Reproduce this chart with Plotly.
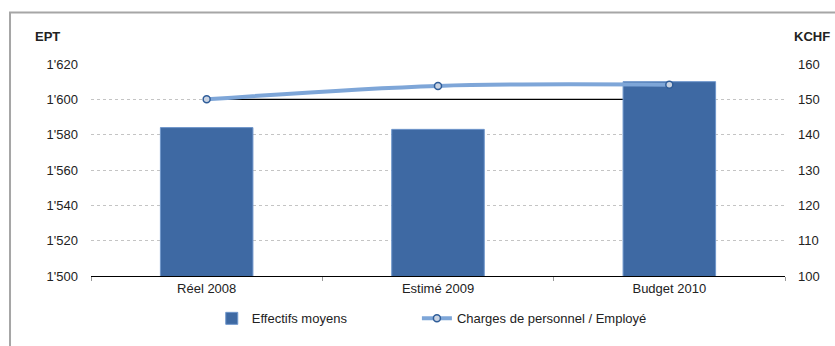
import plotly.graph_objects as go

categories = ["Réel 2008", "Estimé 2009", "Budget 2010"]
effectifs = [1584, 1583, 1610]
charges = [150.0, 153.8, 154.1]
reference_line = [1600, 1600, 1600]
series_names = ["Effectifs moyens", "Charges de personnel / Employé"]

FONT = "Liberation Sans, Arial, sans-serif"
PAD = "\u00a0" * 18  # spacing between legend entries

fig = go.Figure()

# black reference line on main axis (drawn first, below the bars)
fig.add_trace(go.Scatter(
    x=categories, y=reference_line, mode="lines",
    line=dict(color="black", width=1.2), showlegend=False, hoverinfo="skip",
    yaxis="y"))

# bars on a hidden overlay axis with the same range as the EPT axis
fig.add_trace(go.Bar(
    x=categories, y=effectifs, name=series_names[0] + PAD,
    marker=dict(color="#3E69A3", line=dict(color="#6F96CB", width=1)),
    yaxis="y2"))

fig.add_trace(go.Scatter(
    x=categories, y=charges, name=series_names[1],
    mode="lines+markers",
    line=dict(color="#7EA6D8", width=4, shape="spline"),
    marker=dict(symbol="circle", size=7, color="#C9D3E2",
                line=dict(color="#2F5D99", width=1.5)),
    yaxis="y3"))

fig.update_layout(
    width=835, height=346,
    margin=dict(l=91, r=50, t=64, b=60),
    paper_bgcolor="white", plot_bgcolor="white",
    separators=".'",
    font=dict(family=FONT, size=13, color="#222222"),
    bargap=0.6,
    showlegend=True,
    legend=dict(orientation="h", x=0.174, xanchor="left", y=-0.2,
                yanchor="middle", font=dict(size=13), itemwidth=30,
                traceorder="normal"),
    xaxis=dict(showline=True, linecolor="black", linewidth=1.2,
               ticks="outside", tickson="boundaries", ticklen=4,
               tickcolor="#999999", showgrid=False),
    yaxis=dict(range=[1500, 1620], dtick=20, tickformat=",d",
               showgrid=True, gridcolor="#C4C4C4", griddash="dot",
               gridwidth=1, zeroline=False, showline=False,
               ticks="", ticklabelstandoff=12),
    yaxis2=dict(range=[1500, 1620], overlaying="y", side="left",
                visible=False, showgrid=False, zeroline=False),
    yaxis3=dict(range=[100, 160], dtick=10, overlaying="y", side="right",
                showgrid=False, zeroline=False, showline=False,
                ticks="", ticklabelstandoff=12),
    annotations=[
        dict(text="<b>EPT</b>", xref="paper", yref="paper", x=-0.062,
             y=1.13, xanchor="center", yanchor="middle", showarrow=False,
             font=dict(size=13, color="#222222")),
        dict(text="<b>KCHF</b>", xref="paper", yref="paper", x=1.039,
             y=1.13, xanchor="center", yanchor="middle", showarrow=False,
             font=dict(size=13, color="#222222")),
    ],
    shapes=[dict(type="rect", xref="paper", yref="paper",
                 x0=-0.1167, x1=1.3, y0=-0.6, y1=1.2432,
                 line=dict(color="#A6A6A6", width=2), layer="below")],
)

fig.write_html("out.html")
